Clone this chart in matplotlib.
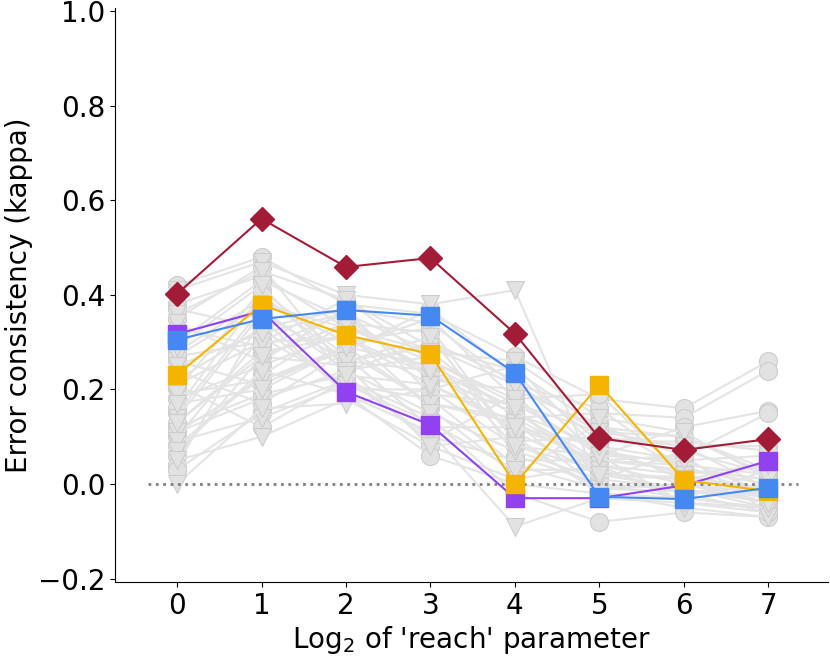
import numpy as np
import matplotlib.pyplot as plt

reach = [0, 1, 2, 3, 4, 5, 6, 7]

# highlighted models
red_vals = [0.402, 0.561, 0.459, 0.478, 0.318, 0.097, 0.072, 0.095]
blue_vals = [0.305, 0.349, 0.368, 0.356, 0.235, -0.027, -0.032, -0.008]
orange_vals = [0.231, 0.379, 0.315, 0.275, 0.000, 0.210, 0.008, -0.015]
purple_vals = [0.317, 0.366, 0.195, 0.125, -0.030, -0.030, -0.003, 0.049]

# background models (circles)
gray_circles = [
    [0.42, 0.48, 0.38, 0.36, 0.27, 0.18, 0.16, 0.26],
    [0.38, 0.44, 0.33, 0.28, 0.14, 0.15, 0.14, 0.24],
    [0.35, 0.46, 0.24, 0.30, 0.22, 0.06, 0.12, 0.155],
    [0.33, 0.29, 0.36, 0.22, 0.20, 0.12, 0.06, 0.15],
    [0.28, 0.39, 0.30, 0.33, 0.09, 0.10, 0.08, 0.08],
    [0.26, 0.21, 0.29, 0.25, 0.16, 0.01, 0.07, 0.02],
    [0.22, 0.33, 0.20, 0.20, 0.25, 0.07, 0.02, 0.04],
    [0.20, 0.41, 0.27, 0.12, 0.12, 0.05, 0.04, -0.03],
    [0.18, 0.25, 0.32, 0.16, 0.02, 0.13, 0.03, 0.01],
    [0.15, 0.37, 0.24, 0.27, 0.08, 0.03, -0.02, 0.00],
    [0.12, 0.19, 0.23, 0.09, 0.19, 0.02, 0.01, -0.04],
    [0.10, 0.31, 0.21, 0.18, 0.04, -0.01, 0.00, -0.02],
    [0.08, 0.23, 0.34, 0.32, 0.06, 0.00, -0.01, 0.05],
    [0.06, 0.27, 0.25, 0.08, 0.01, 0.04, -0.04, -0.05],
    [0.04, 0.35, 0.19, 0.06, 0.00, -0.02, -0.03, 0.03],
    [0.03, 0.15, 0.22, 0.14, -0.02, -0.08, -0.06, -0.07],
    [0.30, 0.43, 0.35, 0.23, 0.15, 0.08, 0.05, 0.06],
    [0.24, 0.17, 0.28, 0.37, 0.23, 0.09, 0.09, 0.07],
    [0.16, 0.40, 0.26, 0.24, 0.11, 0.02, 0.015, -0.01],
    [0.13, 0.28, 0.31, 0.21, 0.13, -0.01, -0.015, -0.02],
    [0.37, 0.33, 0.37, 0.19, 0.17, 0.11, 0.10, 0.02],
    [0.21, 0.12, 0.22, 0.10, 0.05, 0.05, 0.06, -0.06],
    [0.32, 0.36, 0.26, 0.29, 0.21, 0.16, 0.03, 0.01],
    [0.11, 0.22, 0.29, 0.17, 0.14, 0.04, 0.00, -0.03],
    [0.27, 0.30, 0.39, 0.26, 0.18, 0.19, 0.02, -0.02],
]

# background models (triangles)
gray_triangles = [
    [0.41, 0.47, 0.40, 0.38, 0.41, 0.00, -0.03, -0.05],
    [0.36, 0.45, 0.39, 0.29, 0.24, 0.12, 0.10, 0.03],
    [0.34, 0.26, 0.37, 0.34, 0.21, 0.11, 0.08, -0.01],
    [0.27, 0.38, 0.33, 0.26, 0.17, 0.07, 0.04, 0.02],
    [0.21, 0.30, 0.31, 0.23, 0.15, 0.05, 0.03, 0.00],
    [0.19, 0.22, 0.28, 0.17, 0.13, 0.04, 0.02, -0.03],
    [0.14, 0.36, 0.26, 0.31, 0.09, -0.01, 0.00, -0.04],
    [0.11, 0.18, 0.24, 0.15, 0.07, 0.01, -0.01, -0.05],
    [0.09, 0.14, 0.21, 0.13, 0.03, 0.03, -0.02, -0.06],
    [0.07, 0.24, 0.19, 0.11, -0.09, -0.03, -0.04, -0.06],
    [0.05, 0.10, 0.18, 0.08, 0.10, -0.02, -0.05, -0.07],
    [0.00, 0.16, 0.17, 0.20, 0.08, 0.06, -0.04, -0.05],
    [0.25, 0.32, 0.36, 0.28, 0.26, 0.14, 0.11, 0.01],
    [0.17, 0.20, 0.29, 0.35, 0.18, 0.06, 0.05, -0.02],
    [0.29, 0.42, 0.23, 0.21, 0.12, 0.08, 0.01, 0.04],
    [0.13, 0.27, 0.34, 0.24, 0.16, 0.02, -0.01, -0.04],
]

fig, ax = plt.subplots(figsize=(8.3, 6.56), dpi=100)
fig.subplots_adjust(left=0.139, right=0.998, bottom=0.113, top=0.988)

for vals in gray_circles:
    ax.plot(reach, vals, color='#e4e4e4', lw=1.5, marker='o', markersize=13,
            markerfacecolor='#e2e2e2', markeredgecolor='#cdcdcd', markeredgewidth=0.8, zorder=1)
for vals in gray_triangles:
    ax.plot(reach, vals, color='#e4e4e4', lw=1.5, marker='v', markersize=13,
            markerfacecolor='#e2e2e2', markeredgecolor='#cdcdcd', markeredgewidth=0.8, zorder=1)

ax.plot(reach, purple_vals, color='#9142f0', lw=1.5, marker='s', markersize=12.5,
        markeredgecolor='#9142f0', zorder=3)
ax.plot(reach, orange_vals, color='#f4b400', lw=1.5, marker='s', markersize=12.5,
        markeredgecolor='#f4b400', zorder=4)
ax.plot(reach, blue_vals, color='#4688f1', lw=1.5, marker='s', markersize=12.5,
        markeredgecolor='#4688f1', zorder=5)
ax.plot(reach, red_vals, color='#a31c37', lw=1.5, marker='D', markersize=12,
        markeredgecolor='#a31c37', zorder=6)

ax.plot([-0.34, 7.35], [0, 0], color='gray', ls=':', lw=2, zorder=2)

ax.set_xlim(-0.73, 7.71)
ax.set_ylim(-0.207, 1.007)
ax.set_xticks(reach)
ax.set_yticks([-0.2, 0.0, 0.2, 0.4, 0.6, 0.8, 1.0])
ax.tick_params(labelsize=20)
ax.set_xlabel("Log$_2$ of 'reach' parameter", fontsize=20, labelpad=3)
ax.set_ylabel("Error consistency (kappa)", fontsize=20)
ax.spines['top'].set_visible(False)
ax.spines['right'].set_visible(False)

fig.savefig('out.png')
